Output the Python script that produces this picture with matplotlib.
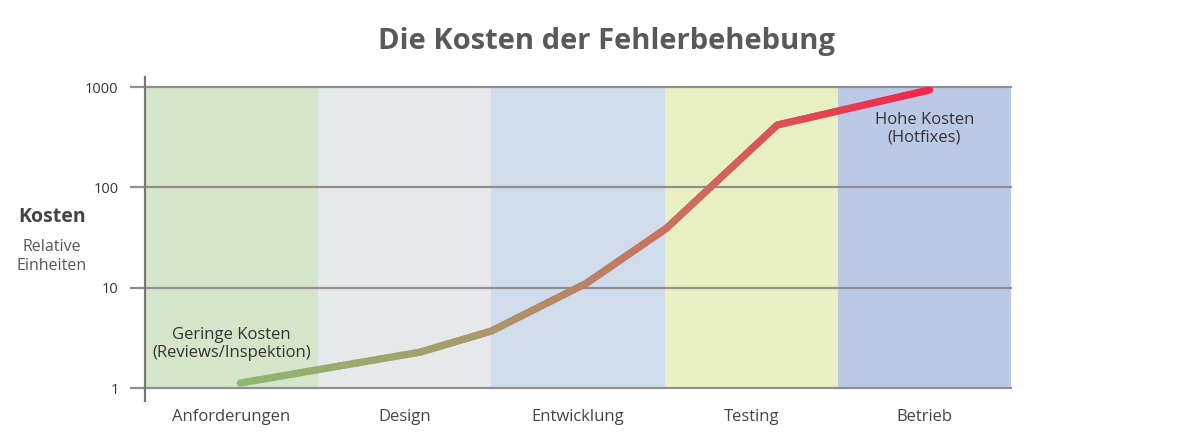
import numpy as np
import matplotlib
matplotlib.use("Agg")
import matplotlib.pyplot as plt
from matplotlib.collections import LineCollection
from matplotlib.colors import LinearSegmentedColormap
from matplotlib.lines import Line2D

plt.rcParams['font.family'] = ['Open Sans', 'DejaVu Sans']

title = "Die Kosten der Fehlerbehebung"
phases = ["Anforderungen", "Design", "Entwicklung", "Testing", "Betrieb"]
band_colors = ["#d4e5c9", "#e7e8ea", "#cfdcec", "#e8f0c3", "#bcc9e6"]
yticks = [1, 10, 100, 1000]
ytick_labels = ["1", "10", "100", "1000"]
curve_x = [0.55, 1.59, 2.0, 2.55, 3.01, 3.65, 4.53]
curve_y = [1.12, 2.28, 3.7, 11.1, 39, 418, 935]
low_label = "Geringe Kosten\n(Reviews/Inspektion)"
high_label = "Hohe Kosten\n(Hotfixes)"

fig = plt.figure(figsize=(11.98, 4.44), dpi=100)
ax = fig.add_axes([145/1198, 56/444, 866/1198, 301/444])
ax.set_yscale('log')
ax.set_xlim(0, len(phases))
ax.set_ylim(1, 1000)

for i, c in enumerate(band_colors):
    ax.axvspan(i, i + 1, color=c, lw=0, zorder=0)

grid_c = "#8f8f8f"
for v in yticks:
    ax.axhline(v, color=grid_c, lw=1.6, zorder=1, clip_on=False)
for s in ax.spines.values():
    s.set_visible(False)

# y-axis spine extending beyond data range
ax.add_line(Line2D([0, 0], [-13/301, 1 + 10/301], transform=ax.transAxes,
                   color="#777777", lw=1.6, clip_on=False, zorder=3))

ax.set_yticks(yticks)
ax.set_yticklabels(ytick_labels)
ax.yaxis.set_minor_locator(matplotlib.ticker.NullLocator())
ax.tick_params(axis='y', length=11, width=1.6, color=grid_c, pad=8,
               labelsize=10.5, labelcolor="#333333")
ax.set_xticks(np.arange(len(phases)) + 0.5)
ax.set_xticklabels(phases)
ax.tick_params(axis='x', length=0, pad=15, labelsize=12, labelcolor="#444444")

# gradient line (subdivided in x / log y for colouring only)
lx = np.asarray(curve_x, float)
ly = np.log10(np.asarray(curve_y, float))
px, py = [], []
for k in range(len(lx) - 1):
    t = np.linspace(0, 1, 40, endpoint=False)
    px.extend(lx[k] + (lx[k+1] - lx[k]) * t)
    py.extend(ly[k] + (ly[k+1] - ly[k]) * t)
px.append(lx[-1]); py.append(ly[-1])
px = np.array(px); py = 10 ** np.array(py)
pts = np.column_stack([px, py]).reshape(-1, 1, 2)
segs = np.concatenate([pts[:-1], pts[1:]], axis=1)
cmap = LinearSegmentedColormap.from_list("g", ["#8db870", "#a89a6c", "#cf6a5c", "#f5234a"])
lc = LineCollection(segs, cmap=cmap, linewidth=5.2, capstyle='round', joinstyle='round', zorder=4)
lc.set_array((px[:-1] - lx[0]) / (lx[-1] - lx[0]))
lc.set_clim(0, 1)
ax.add_collection(lc)

ax.text(0.5, 2.75, low_label, ha='center', va='center', fontsize=12,
        color="#333333", linespacing=1.15, zorder=5)
ax.text(4.5, 385, high_label, ha='center', va='center', fontsize=12,
        color="#333333", linespacing=1.15, zorder=5)

fig.text(607/1198, 1 - 42/444, title, ha='center', va='center', fontsize=21,
         fontweight='bold', color="#595959")
fig.text(52/1198, 1 - 217/444, "Kosten", ha='center', va='center', fontsize=14,
         fontweight='bold', color="#444444")
fig.text(52/1198, 1 - 256/444, "Relative\nEinheiten", ha='center', va='center',
         fontsize=11.5, color="#555555", linespacing=1.25)

fig.savefig("out.png", dpi=100)
